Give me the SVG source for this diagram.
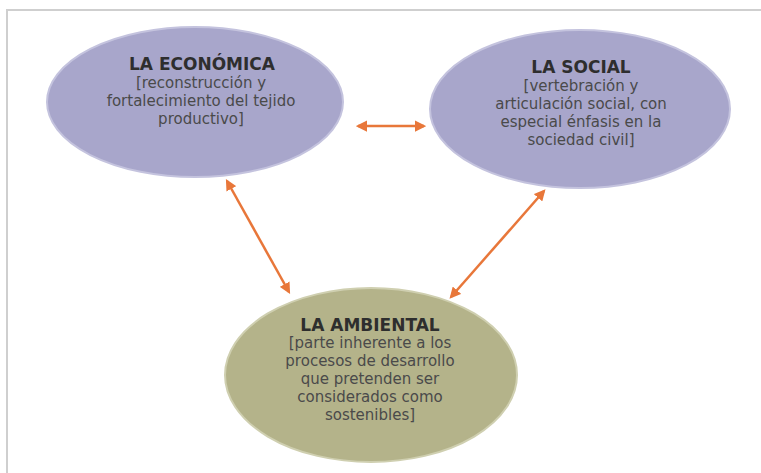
<svg xmlns="http://www.w3.org/2000/svg" width="761" height="473" viewBox="0 0 761 473">
<defs>
<style>
.purple{fill:#a8a6cb;stroke:#c4c3de;stroke-width:2}
.olive{fill:#b4b38a;stroke:#cfcfb0;stroke-width:2}
.t{font-family:"DejaVu Sans",Verdana,sans-serif;font-size:17px;font-weight:bold;fill:#2e2e2e;text-anchor:middle}
.b{font-family:"DejaVu Sans",Verdana,sans-serif;font-size:15px;fill:#4a4a4a;text-anchor:middle}
.c{stroke:#e8773a;stroke-width:2.5;fill:none;marker-end:url(#ah);marker-start:url(#ah)}
</style>
<marker id="ah" viewBox="0 0 10 10" refX="8" refY="5" markerWidth="4.5" markerHeight="4.5" orient="auto-start-reverse" markerUnits="strokeWidth">
<path d="M0,0 L10,5 L0,10 z" fill="#e8773a"/>
</marker>
</defs>
<rect width="761" height="473" fill="#ffffff"/>
<path d="M7,473 V10 H761" fill="none" stroke="#cfcfcf" stroke-width="2"/>
<g id="connectors">
<line class="c" x1="358" y1="126" x2="424" y2="126"/>
<line class="c" x1="227" y1="181" x2="289" y2="292"/>
<line class="c" x1="544" y1="191" x2="451" y2="297"/>
</g>
<g id="economica">
<ellipse class="purple" cx="195" cy="102" rx="148" ry="75"/>
<text class="t" x="202" y="70">LA ECONÓMICA</text>
<text class="b" x="201" y="88">[reconstrucción y</text>
<text class="b" x="201" y="106">fortalecimiento del tejido</text>
<text class="b" x="201" y="124">productivo]</text>
</g>
<g id="social">
<ellipse class="purple" cx="580" cy="109" rx="150" ry="79"/>
<text class="t" x="581" y="73">LA SOCIAL</text>
<text class="b" x="581" y="91">[vertebración y</text>
<text class="b" x="581" y="109">articulación social, con</text>
<text class="b" x="581" y="127">especial énfasis en la</text>
<text class="b" x="581" y="145">sociedad civil]</text>
</g>
<g id="ambiental">
<ellipse class="olive" cx="371" cy="375" rx="146" ry="87"/>
<text class="t" x="370" y="331">LA AMBIENTAL</text>
<text class="b" x="370" y="348">[parte inherente a los</text>
<text class="b" x="370" y="366">procesos de desarrollo</text>
<text class="b" x="370" y="384">que pretenden ser</text>
<text class="b" x="370" y="402">considerados como</text>
<text class="b" x="370" y="420">sostenibles]</text>
</g>
</svg>
